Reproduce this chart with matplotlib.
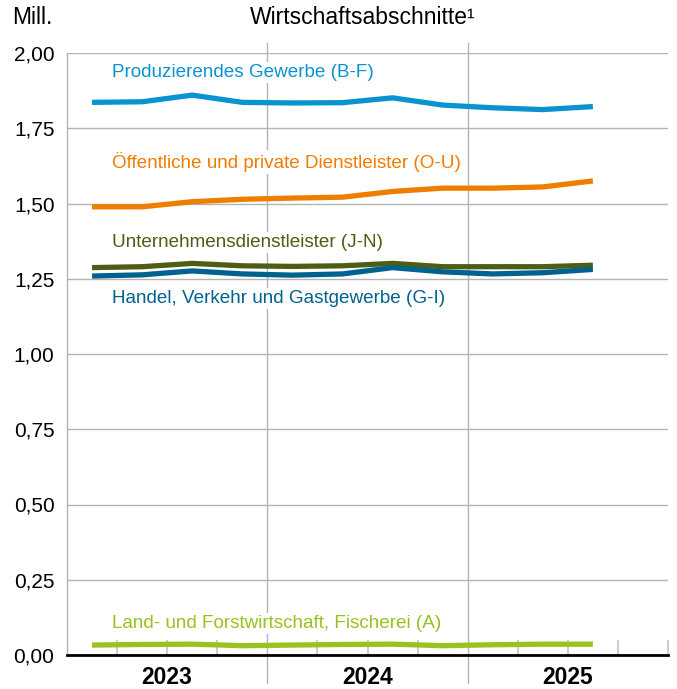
import numpy as np
import matplotlib
matplotlib.use("Agg")
import matplotlib.pyplot as plt
from matplotlib.transforms import blended_transform_factory

plt.rcParams["font.family"] = ["Liberation Sans", "DejaVu Sans"]

# ── Daten (Mill. Erwerbstätige, Quartale 2023 Q1 – 2025 Q3) ─────────────────
quarters = ["2023 Q1", "2023 Q2", "2023 Q3", "2023 Q4",
            "2024 Q1", "2024 Q2", "2024 Q3", "2024 Q4",
            "2025 Q1", "2025 Q2", "2025 Q3"]
years = ["2023", "2024", "2025"]

prod_gewerbe = [1.836, 1.838, 1.860, 1.836, 1.834, 1.835, 1.851, 1.827, 1.818, 1.812, 1.822]
oeff_dienst  = [1.489, 1.489, 1.506, 1.514, 1.518, 1.521, 1.540, 1.551, 1.551, 1.555, 1.575]
unt_dienst   = [1.287, 1.290, 1.301, 1.293, 1.291, 1.293, 1.301, 1.290, 1.290, 1.290, 1.295]
handel       = [1.259, 1.263, 1.276, 1.266, 1.262, 1.266, 1.287, 1.273, 1.266, 1.270, 1.281]
land_forst   = [0.033, 0.035, 0.036, 0.031, 0.033, 0.035, 0.036, 0.031, 0.034, 0.036, 0.036]

series = [
    ("Produzierendes Gewerbe (B-F)",                prod_gewerbe, "#0a93d1", 1.934),
    ("Öffentliche und private Dienstleister (O-U)", oeff_dienst,  "#ef7d00", 1.639),
    ("Unternehmensdienstleister (J-N)",             unt_dienst,   "#4d5e14", 1.370),
    ("Handel, Verkehr und Gastgewerbe (G-I)",       handel,       "#00628e", 1.183),
    ("Land- und Forstwirtschaft, Fischerei (A)",    land_forst,   "#98c21d", 0.106),
]

x = np.arange(len(quarters))
grid_col = "#b4b4b4"

# ── Plot ──────────────────────────────────────────────────────────────────────
fig = plt.figure(figsize=(6.77, 6.89), dpi=100)
ax = fig.add_axes([67 / 677, 34 / 689, 601 / 677, 602 / 689])

ax.set_xlim(-0.5, 11.5)
ax.set_ylim(0, 2.0)

yt = np.arange(0, 2.01, 0.25)
ax.set_yticks(yt, [f"{v:.2f}".replace(".", ",") for v in yt])
ax.tick_params(axis="y", length=0, pad=9, labelsize=15)
for v in yt[1:]:
    ax.axhline(v, color=grid_col, lw=1.0, zorder=1)

# Quartalsstriche innen an der x-Achse
ax.set_xticks([])
ax.set_xticks([0.5, 1.5, 2.5, 4.5, 5.5, 6.5, 8.5, 9.5, 10.5, 11.5], minor=True)
ax.tick_params(axis="x", which="minor", direction="in", length=11,
               width=1.2, color="#c4c4c4", labelbottom=False)

for s in ["top", "right"]:
    ax.spines[s].set_visible(False)
ax.spines["left"].set_color(grid_col)
ax.spines["left"].set_linewidth(1.0)
ax.spines["bottom"].set_color("black")
ax.spines["bottom"].set_linewidth(2.0)
ax.spines["bottom"].set_zorder(6)

# Jahrestrenner, über die Achse hinaus
trans = blended_transform_factory(ax.transData, ax.transAxes)
for xb in [3.5, 7.5]:
    ax.plot([xb, xb], [-0.047, 1.017], color=grid_col, lw=1.0,
            transform=trans, clip_on=False, zorder=1)

for i, yr in enumerate(years):
    ax.text(1.5 + 4 * i, -0.037, yr, transform=trans, ha="center", va="center",
            fontsize=16.5, fontweight="bold")

for label, vals, col, ylab in series:
    ax.plot(x, vals, color=col, lw=3.8, solid_capstyle="butt", zorder=4)
    ax.text(0.075, ylab, label, color=col, fontsize=13.6, ha="left", va="center",
            transform=blended_transform_factory(ax.transAxes, ax.transData),
            bbox=dict(facecolor="white", edgecolor="none", pad=1.5), zorder=3)

fig.text(12 / 677, 1 - 17 / 689, "Mill.", fontsize=16.5, ha="left", va="center")
fig.text(363 / 677, 1 - 17 / 689, "Wirtschaftsabschnitte¹", fontsize=16.5,
         ha="center", va="center")

fig.savefig("out.png", dpi=100)
plt.close(fig)
